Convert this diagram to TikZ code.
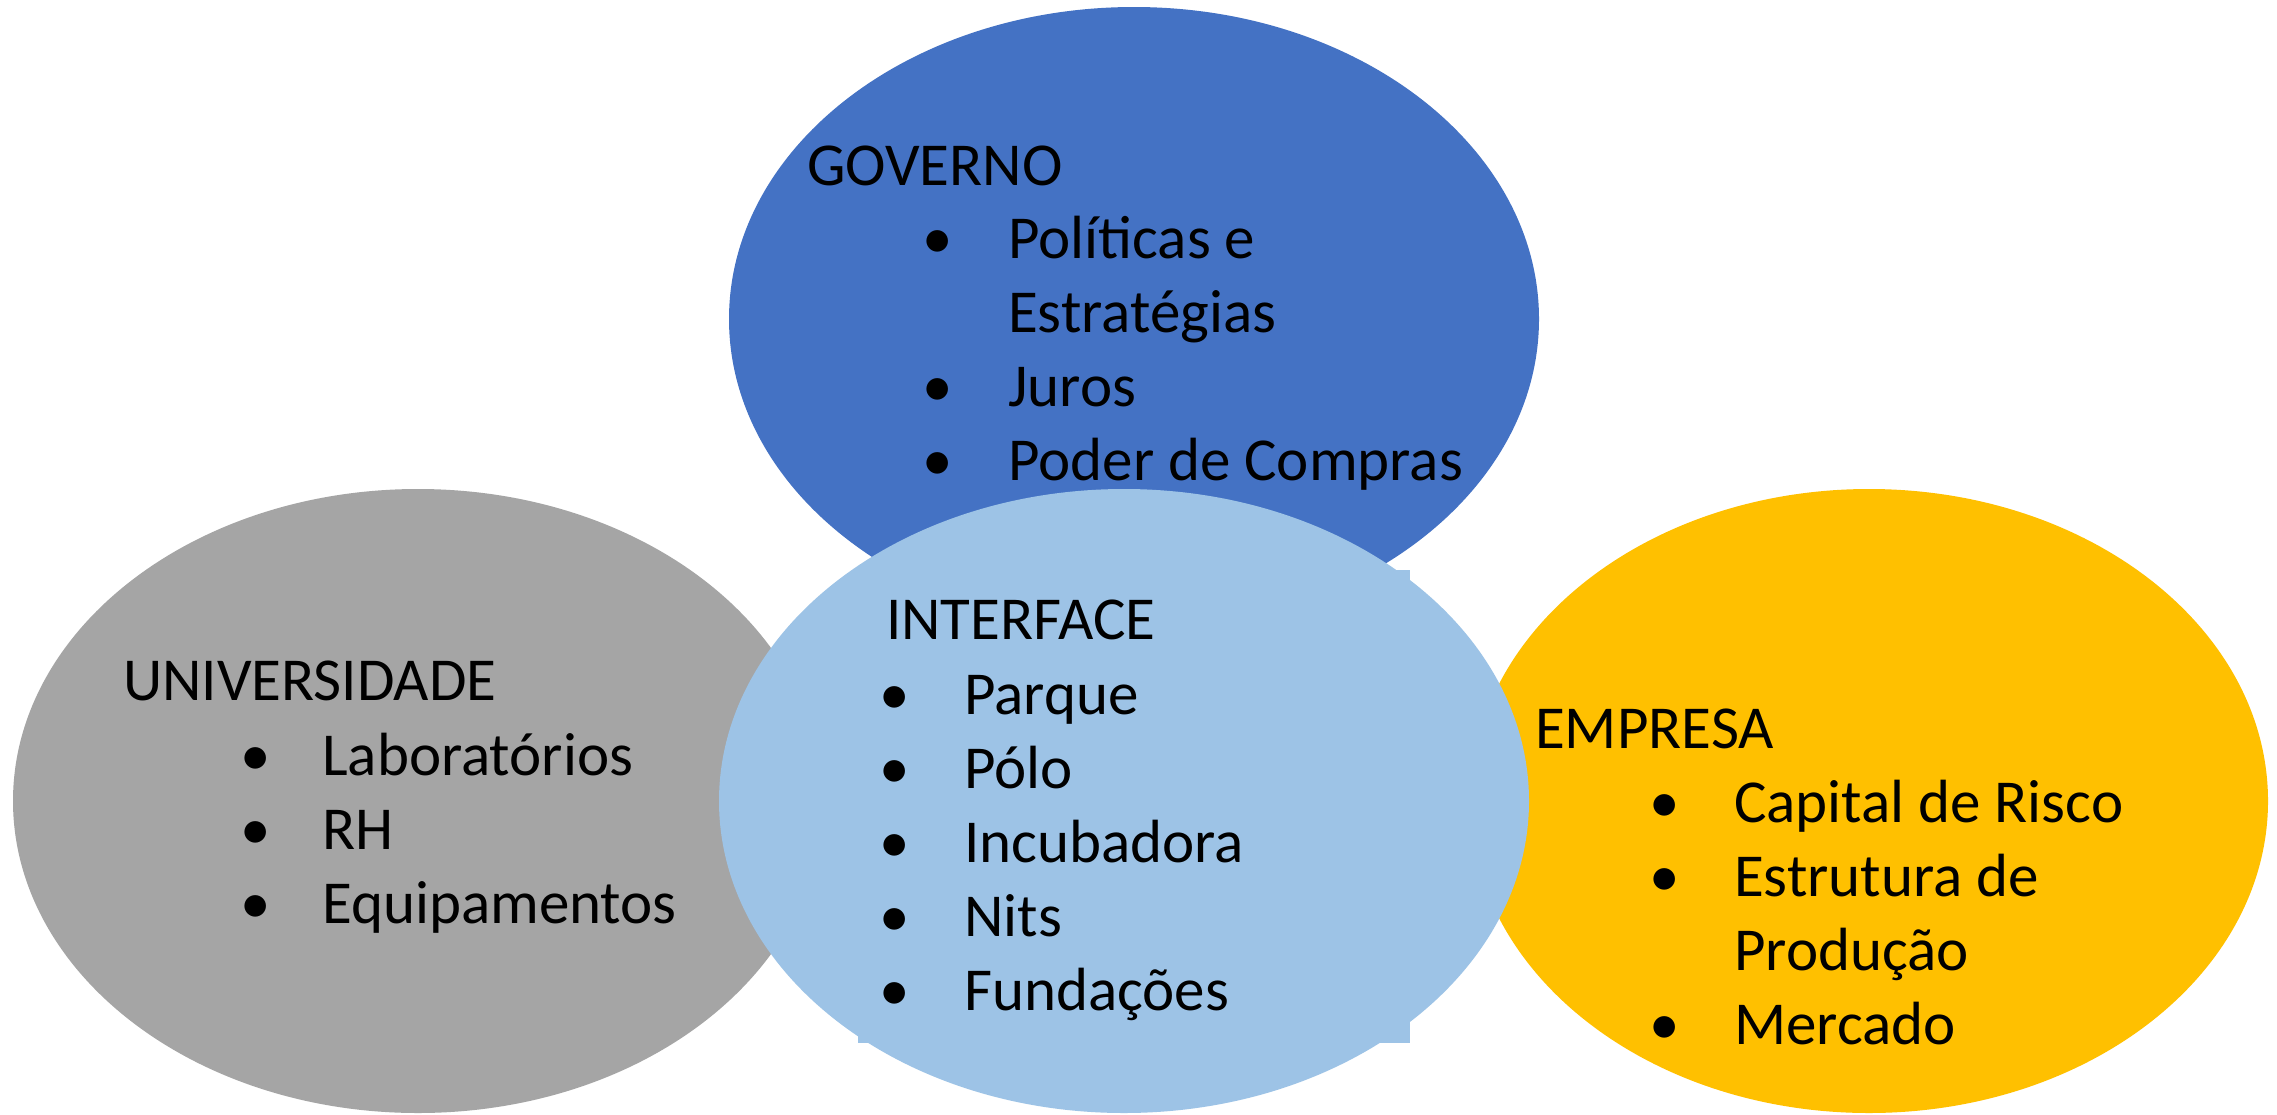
\documentclass[tikz,border=0pt]{standalone}
\usepackage{fontspec}
\setmainfont{Carlito}
\usetikzlibrary{shapes.geometric}
\definecolor{govblue}{HTML}{4472C4}
\definecolor{unigray}{HTML}{A5A5A5}
\definecolor{empyellow}{HTML}{FFC000}
\definecolor{ifblue}{HTML}{9DC3E6}
\tikzset{
  blob/.style={ellipse, inner sep=0pt, minimum width=810pt, minimum height=624pt},
  txt/.style={anchor=base west, inner sep=0pt, font=\fontsize{61pt}{75pt}\selectfont},
  bul/.style={anchor=base, inner sep=0pt, font=\fontsize{61pt}{75pt}\selectfont}
}
\begin{document}
\begin{tikzpicture}[x=1pt,y=-1pt]
\fill[white] (0,0) rectangle (2277,1114);
\useasboundingbox (0,0) rectangle (2277,1114);
% ellipses
\node[blob, fill=unigray] (uni) at (418,801) {};
\node[blob, fill=empyellow, minimum width=798pt] (emp) at (1869,801) {};
\node[blob, fill=govblue] (gov) at (1134,319) {};
\fill[ifblue] (858,570) rectangle (1410,1043);
\node[blob, fill=ifblue] (ifc) at (1124,801) {};
% GOVERNO
\node[txt] (govt) at (807,185) {GOVERNO};
\node[bul] (gb1) at (938,258) {•};
\node[txt] (g1) at (1008,258) {Políticas e};
\node[txt] (g1b) at (1008,332) {Estratégias};
\node[bul] (gb2) at (938,406) {•};
\node[txt] (g2) at (1008,406) {Juros};
\node[bul] (gb3) at (938,480) {•};
\node[txt] (g3) at (1008,480) {Poder de Compras};
% INTERFACE
\node[txt] (ift) at (886,639) {INTERFACE};
\node[bul] (ib1) at (895,714) {•};
\node[txt] (i1) at (964,714) {Parque};
\node[bul] (ib2) at (895,788) {•};
\node[txt] (i2) at (964,788) {Pólo};
\node[bul] (ib3) at (895,862) {•};
\node[txt] (i3) at (964,862) {Incubadora};
\node[bul] (ib4) at (895,936) {•};
\node[txt] (i4) at (964,936) {Nits};
\node[bul] (ib5) at (895,1010) {•};
\node[txt] (i5) at (964,1010) {Fundações};
% UNIVERSIDADE
\node[txt] (unit) at (123,700) {UNIVERSIDADE};
\node[bul] (ub1) at (256,775) {•};
\node[txt] (u1) at (322,775) {Laboratórios};
\node[bul] (ub2) at (256,849) {•};
\node[txt] (u2) at (322,849) {RH};
\node[bul] (ub3) at (256,923) {•};
\node[txt] (u3) at (322,923) {Equipamentos};
% EMPRESA
\node[txt] (empt) at (1535,748) {EMPRESA};
\node[bul] (eb1) at (1665,822) {•};
\node[txt] (e1) at (1734,822) {Capital de Risco};
\node[bul] (eb2) at (1665,896) {•};
\node[txt] (e2) at (1734,896) {Estrutura de};
\node[txt] (e2b) at (1734,970) {Produção};
\node[bul] (eb3) at (1665,1044) {•};
\node[txt] (e3) at (1734,1044) {Mercado};
\end{tikzpicture}
\end{document}
